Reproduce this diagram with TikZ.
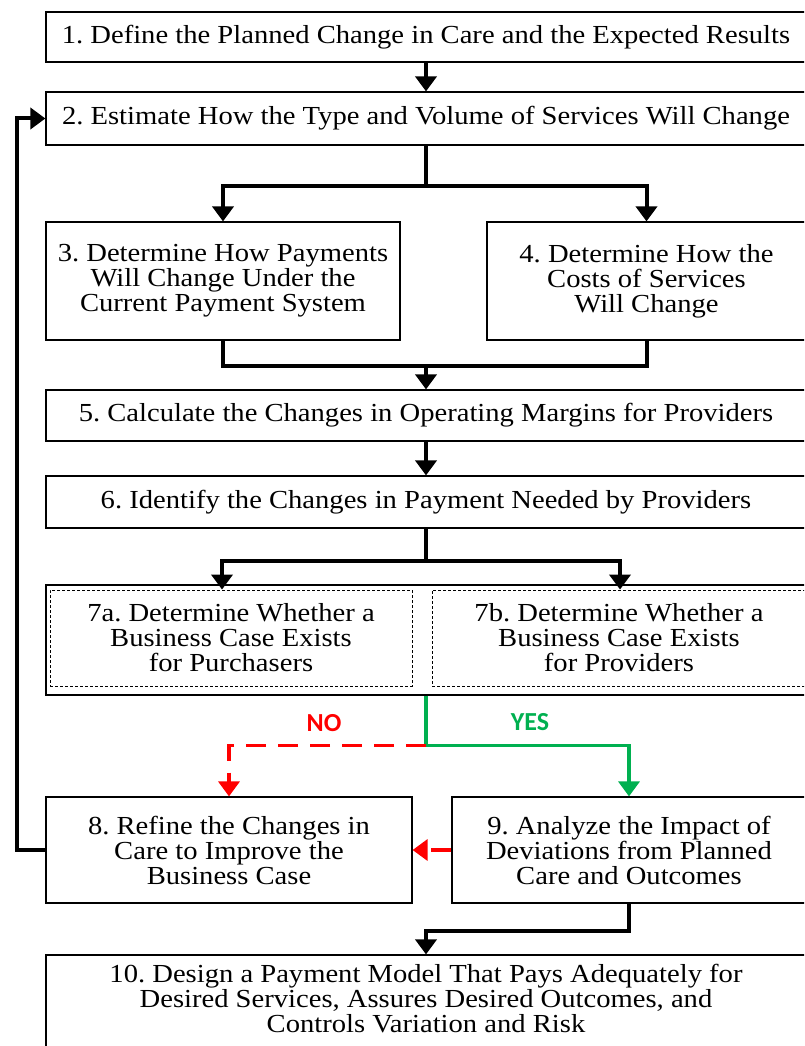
\documentclass[tikz,border=0pt]{standalone}
\usepackage{fontspec}
\setmainfont{Liberation Serif}[FakeStretch=1.1]
\newfontfamily\flagfont{Carlito}
\usetikzlibrary{arrows.meta}
\definecolor{yesgreen}{RGB}{0,176,80}
\definecolor{nored}{RGB}{255,0,0}
\frenchspacing

\begin{document}
\begin{tikzpicture}[x=1pt, y=-1pt,
	every node/.style={font=\fontsize{26}{25}\selectfont, align=center, inner sep=0pt},
	box/.style n args={2}{draw, line width=1.2pt, minimum width=#1, minimum height=#2},
	subbox/.style n args={2}{draw, line width=0.9pt, dash pattern=on 3pt off 2pt, minimum width=#1, minimum height=#2},
	line/.style={line width=4pt},
	conn/.style={line width=4pt, -{Triangle[width=21pt,length=15pt]}},
	yesline/.style={conn, yesgreen, line width=3.5pt},
	noline/.style={conn, nored, line width=3.5pt, dash pattern=on 20pt off 12pt},
	flag/.style={font=\flagfont\bfseries\fontsize{26}{26}\selectfont}]
	\useasboundingbox (0,0) rectangle (804,1046);
	\clip (0,0) rectangle (804,1046);
	\node[box={760}{50}] (b1) at (426,37) {1. Define the Planned Change in Care and the Expected Results};
	\node[box={760}{53}] (b2) at (426,118.5) {2. Estimate How the Type and Volume of Services Will Change};
	\node[box={354}{118}] (b3) at (223,281) {3. Determine How Payments\\Will Change Under the\\Current Payment System};
	\node[box={319}{118}] (b4) at (646.5,281) {4. Determine How the\\Costs of Services\\Will Change};
	\node[box={760}{51}] (b5) at (426,415.5) {5. Calculate the Changes in Operating Margins for Providers};
	\node[box={760}{52}] (b6) at (426,502) {6. Identify the Changes in Payment Needed by Providers};
	\node[box={760}{110}] (b7) at (426,640) {};
	\node[subbox={362}{96}] (b7a) at (231,638) {7a. Determine Whether a\\Business Case Exists\\for Purchasers};
	\node[subbox={374}{96}] (b7b) at (619,638) {7b. Determine Whether a\\Business Case Exists\\for Providers};
	\node[box={366}{106}] (b8) at (229,850) {8. Refine the Changes in\\Care to Improve the\\Business Case};
	\node[box={354}{106}] (b9) at (629,850) {9. Analyze the Impact of\\Deviations from Planned\\Care and Outcomes};
	\node[box={760}{100}, text depth=14pt] (b10) at (426,1005) {10. Design a Payment Model That Pays Adequately for\\Desired Services, Assures Desired Outcomes, and\\Controls Variation and Risk};
	\node[flag, text=nored] (no) at (324,723) {NO};
	\node[flag, text=yesgreen] (yes) at (530,722) {YES};

	\draw[conn] (b1) -- (b2);
	\draw[line] (b2.south) -- ++(0,40) coordinate (s1);
	\draw[conn] (s1) -| (b3.north);
	\draw[conn] (s1) -| (b4.north);
	\draw[line] (b3.south) -- ++(0,25) coordinate (j1) -| (b4.south);
	\draw[conn] (b5.north |- j1) -- (b5);
	\draw[conn] (b5) -- (b6);
	\draw[line] (b6.south) -- ++(0,32) coordinate (s2);
	\draw[conn] (s2) -| ([xshift=-9pt]b7a.north);
	\draw[conn] (s2) -| ([xshift=1pt]b7b.north);
	\draw[yesline] (b7.south) -- ++(0,50) coordinate (s3) -| (b9.north);
	\draw[noline] (s3) -| (b8.north);
	\draw[noline] (b9.west) -- (b8.east);
	\draw[conn] (b8.west) -- ++(-28,0) |- (b2.west);
	\draw[conn] (b9.south) -- ++(0,27) -| (b10.north);
\end{tikzpicture}
\end{document}
